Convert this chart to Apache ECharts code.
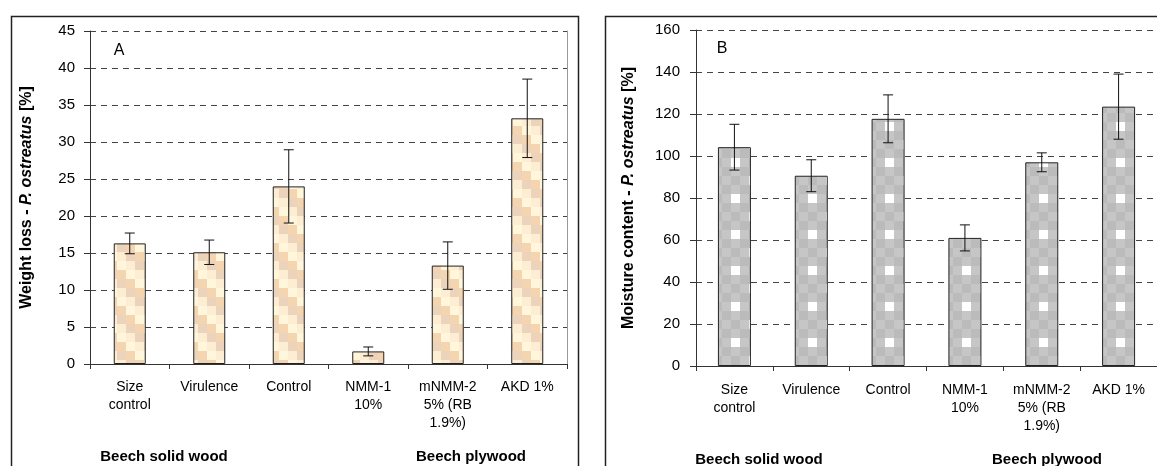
<!DOCTYPE html>
<html>
<head>
<meta charset="utf-8">
<script src="https://cdn.jsdelivr.net/npm/echarts@6/dist/echarts.min.js"></script>
<style>
html,body{margin:0;padding:0;background:#fff;}
#chart{width:1157px;height:466px;}
</style>
</head>
<body>
<div id="chart"></div>
<script>
// ---- data ----
var categories = ['Size\ncontrol', 'Virulence', 'Control', 'NMM-1\n10%', 'mNMM-2\n5% (RB\n1.9%)', 'AKD 1%'];
var weightLoss = [16.3, 15.1, 24.0, 1.7, 13.3, 33.2];
var weightLossErr = [1.4, 1.65, 4.95, 0.6, 3.2, 5.3];
var moisture = [104.2, 90.6, 117.7, 61.0, 97.0, 123.5];
var moistureErr = [10.9, 7.6, 11.4, 6.2, 4.5, 15.5];
var weightTicks = {min: 0, max: 45, interval: 5};
var moistureTicks = {min: 0, max: 160, interval: 20};
var groupLabels = ['Beech solid wood', 'Beech plywood'];
var panelLetters = ['A', 'B'];

var FONT = '"Liberation Sans", Arial, sans-serif';

// ---- fill patterns ----
function beigeTile() {
  var c = document.createElement('canvas');
  c.width = 36; c.height = 36;
  var g = c.getContext('2d');
  var pal = ['#FFF6DC', '#FDEDD3', '#ECD3BC', '#F5D4B0'];
  for (var r = 0; r < 4; r++) {
    for (var k = 0; k < 4; k++) {
      g.fillStyle = pal[((k - r) % 4 + 4) % 4];
      g.fillRect(k * 9, r * 9, 9, 9);
    }
  }
  return c;
}
function grayTile() {
  var c = document.createElement('canvas');
  c.width = 77; c.height = 36;
  var g = c.getContext('2d');
  g.fillStyle = '#BFBFBF';
  g.fillRect(0, 0, 77, 36);
  var shades = ['#C6C6C6', '#BBBBBB'];
  for (var i = -1; i < 10; i++) {
    for (var j = -1; j < 5; j++) {
      g.fillStyle = shades[((i + j) % 2 + 2) % 2];
      g.fillRect(2 + i * 9, 5 + j * 9, 9, 9);
    }
  }
  g.fillStyle = '#FFFFFF';
  g.fillRect(38, 14, 9, 9);
  g.fillRect(56, 32, 9, 9);
  g.fillRect(56, -4, 9, 9);
  return c;
}

function errData(vals, errs) {
  return vals.map(function (v, i) { return [i, v, errs[i]]; });
}
function renderErr(params, api) {
  var x = api.value(0), v = api.value(1), e = api.value(2);
  var t = api.coord([x, v + e]);
  var b = api.coord([x, v - e]);
  var hw = 5;
  var st = {stroke: '#111', lineWidth: 1};
  return {
    type: 'group',
    children: [
      {type: 'line', shape: {x1: t[0], y1: t[1], x2: b[0], y2: b[1]}, style: st},
      {type: 'line', shape: {x1: t[0] - hw, y1: t[1], x2: t[0] + hw, y2: t[1]}, style: st},
      {type: 'line', shape: {x1: b[0] - hw, y1: b[1], x2: b[0] + hw, y2: b[1]}, style: st}
    ]
  };
}

function xAxisCfg(gi, margin) {
  return {
    type: 'category', gridIndex: gi, data: categories,
    axisLine: {lineStyle: {color: '#333', width: 1}},
    axisTick: {show: true, length: 5, lineStyle: {color: '#333'}},
    axisLabel: {interval: 0, color: '#000', fontFamily: FONT, fontSize: 14, lineHeight: 18, margin: margin}
  };
}
function yAxisCfg(gi, ticks, name, gap, margin) {
  return {
    type: 'value', gridIndex: gi, min: ticks.min, max: ticks.max, interval: ticks.interval,
    name: name, nameLocation: 'middle', nameRotate: 90, nameGap: gap,
    nameTextStyle: {
      rich: {
        b: {fontFamily: FONT, fontSize: 16, fontWeight: 'bold', color: '#000'},
        bi: {fontFamily: FONT, fontSize: 16, fontWeight: 'bold', fontStyle: 'italic', color: '#000'}
      }
    },
    axisLine: {show: true, lineStyle: {color: '#333', width: 1}},
    axisTick: {show: true, length: 6, lineStyle: {color: '#333'}},
    axisLabel: {color: '#000', fontFamily: FONT, fontSize: 15, margin: margin},
    splitLine: {show: true, lineStyle: {color: '#444', type: [6, 5], width: 1}}
  };
}

var chart = echarts.init(document.getElementById('chart'), null, {renderer: 'canvas'});
var beige = {image: beigeTile(), repeat: 'repeat'};
var gray = {image: grayTile(), repeat: 'repeat'};

var option = {
  animation: false,
  grid: [
    {left: 90, top: 31, width: 477, height: 333},
    {left: 696, top: 30, width: 463, height: 336}
  ],
  xAxis: [xAxisCfg(0, 14), xAxisCfg(1, 15)],
  yAxis: [
    yAxisCfg(0, weightTicks, '{b|Weight loss - }{bi|P. ostreatus}{b| [%]}', 55, 15),
    yAxisCfg(1, moistureTicks, '{b|Moisture content - }{bi|P. ostreatus}{b| [%]}', 59, 16),
    {type: 'value', gridIndex: 0, position: 'right', min: weightTicks.min, max: weightTicks.max,
     axisLine: {show: true, lineStyle: {color: '#999'}}, axisTick: {show: false},
     axisLabel: {show: false}, splitLine: {show: false}}
  ],
  series: [
    {type: 'bar', xAxisIndex: 0, yAxisIndex: 0, data: weightLoss, barWidth: 32,
     itemStyle: {color: beige, borderColor: '#222', borderWidth: 1}},
    {type: 'custom', xAxisIndex: 0, yAxisIndex: 0, data: errData(weightLoss, weightLossErr),
     renderItem: renderErr, z: 5},
    {type: 'bar', xAxisIndex: 1, yAxisIndex: 1, data: moisture, barWidth: 33,
     itemStyle: {color: gray, borderColor: '#222', borderWidth: 1}},
    {type: 'custom', xAxisIndex: 1, yAxisIndex: 1, data: errData(moisture, moistureErr),
     renderItem: renderErr, z: 5}
  ],
  graphic: [
    {type: 'rect', shape: {x: 11.5, y: 16.5, width: 567, height: 480}, style: {fill: null, stroke: '#222', lineWidth: 1.5}, silent: true},
    {type: 'rect', shape: {x: 605.5, y: 16.5, width: 600, height: 480}, style: {fill: null, stroke: '#222', lineWidth: 1.5}, silent: true},
    {type: 'text', x: 119, y: 51, style: {text: panelLetters[0], font: '16px ' + FONT, fill: '#000', align: 'center', verticalAlign: 'middle'}},
    {type: 'text', x: 722, y: 49, style: {text: panelLetters[1], font: '16px ' + FONT, fill: '#000', align: 'center', verticalAlign: 'middle'}},
    {type: 'text', x: 164, y: 457, style: {text: groupLabels[0], font: 'bold 15px ' + FONT, fill: '#000', align: 'center', verticalAlign: 'middle'}},
    {type: 'text', x: 471, y: 457, style: {text: groupLabels[1], font: 'bold 15px ' + FONT, fill: '#000', align: 'center', verticalAlign: 'middle'}},
    {type: 'text', x: 759, y: 460, style: {text: groupLabels[0], font: 'bold 15px ' + FONT, fill: '#000', align: 'center', verticalAlign: 'middle'}},
    {type: 'text', x: 1047, y: 460, style: {text: groupLabels[1], font: 'bold 15px ' + FONT, fill: '#000', align: 'center', verticalAlign: 'middle'}}
  ]
};
chart.setOption(option);
</script>
</body>
</html>
